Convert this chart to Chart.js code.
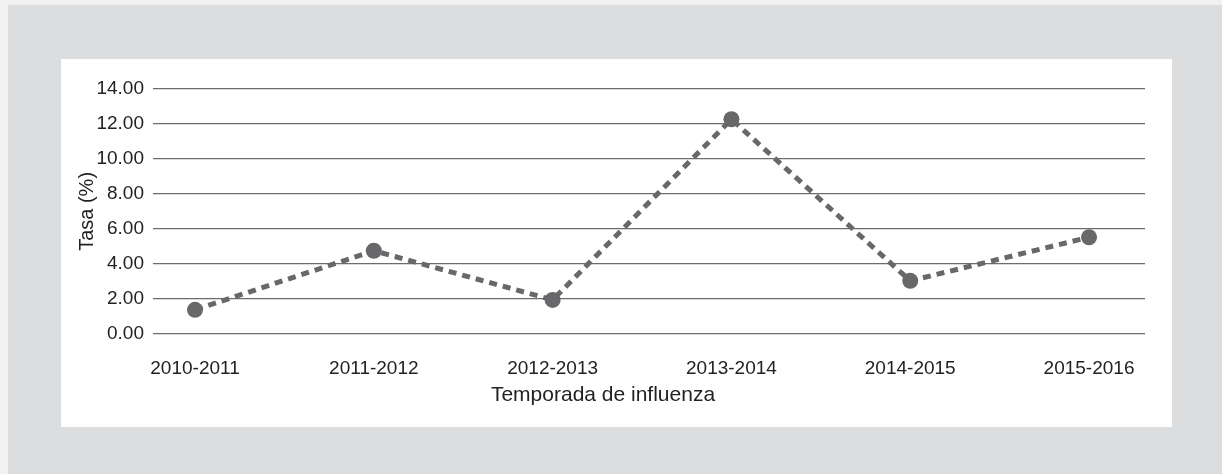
<!DOCTYPE html>
<html>
<head>
<meta charset="utf-8">
<script src="https://cdn.jsdelivr.net/npm/chart.js@4.4.1/dist/chart.umd.min.js"></script>
<style>
  html, body { margin: 0; padding: 0; background: #f1f1f1; }
  body { width: 1222px; height: 474px; position: relative; overflow: hidden; }
  #frame { position: absolute; left: 8px; top: 5px; right: 0; bottom: 0; background: #dcdddf; }
  #panel { position: absolute; left: 61px; top: 59px; width: 1111px; height: 368px; background: #fff; }
</style>
</head>
<body>
<div id="frame"></div>
<div id="panel"><canvas id="myChart" width="1111" height="368"></canvas></div>
<script>
// ------------------------- data -------------------------
const seasons = ["2010-2011", "2011-2012", "2012-2013", "2013-2014", "2014-2015", "2015-2016"];
const rates = [1.37, 4.75, 1.94, 12.27, 3.03, 5.52];
const yTicks = [0, 2, 4, 6, 8, 10, 12, 14];

const font = "'Liberation Sans', Arial, Helvetica, sans-serif";
const lineGrey = "#68686b";

new Chart("myChart", {
  type: "line",
  data: {
    datasets: [{
      data: rates.map((v, i) => ({ x: i, y: v })),
      borderColor: lineGrey,
      backgroundColor: lineGrey,
      borderWidth: 5,
      borderDash: [8, 6],
      pointRadius: 8,
      pointHoverRadius: 8,
      pointBackgroundColor: lineGrey,
      pointBorderWidth: 0,
      tension: 0
    }]
  },
  options: {
    responsive: false,
    animation: false,
    layout: { padding: { top: 30, right: 27, left: 0, bottom: 0 } },
    plugins: {
      legend: { display: false },
      tooltip: { enabled: false },
      title: {
        display: true,
        position: "bottom",
        text: "Temporada de influenza",
        color: "#222",
        font: { family: font, size: 21, weight: "normal" },
        padding: { top: 5, bottom: 19 }
      }
    },
    scales: {
      x: {
        type: "linear",
        min: -0.235,
        max: 5.313,
        afterBuildTicks: s => { s.ticks = seasons.map((_, i) => ({ value: i })); },
        afterFit: s => { s.height = 44; },
        grid: { display: false },
        border: { display: false },
        ticks: {
          color: "#222",
          font: { family: font, size: 19 },
          padding: 16,
          maxRotation: 0,
          autoSkip: false,
          callback: v => seasons[v]
        }
      },
      y: {
        min: 0,
        max: 14,
        afterBuildTicks: s => { s.ticks = yTicks.map(v => ({ value: v })); },
        afterFit: s => { s.width = 92; },
        grid: { color: "#6c6c6c", lineWidth: 1.2, drawTicks: false },
        border: { display: false },
        title: {
          display: true,
          text: "Tasa (%)",
          color: "#222",
          font: { family: font, size: 20 },
          padding: { top: 14, bottom: 0 }
        },
        ticks: {
          color: "#222",
          font: { family: font, size: 19 },
          padding: 9,
          callback: v => v.toFixed(2)
        }
      }
    }
  }
});
</script>
</body>
</html>
